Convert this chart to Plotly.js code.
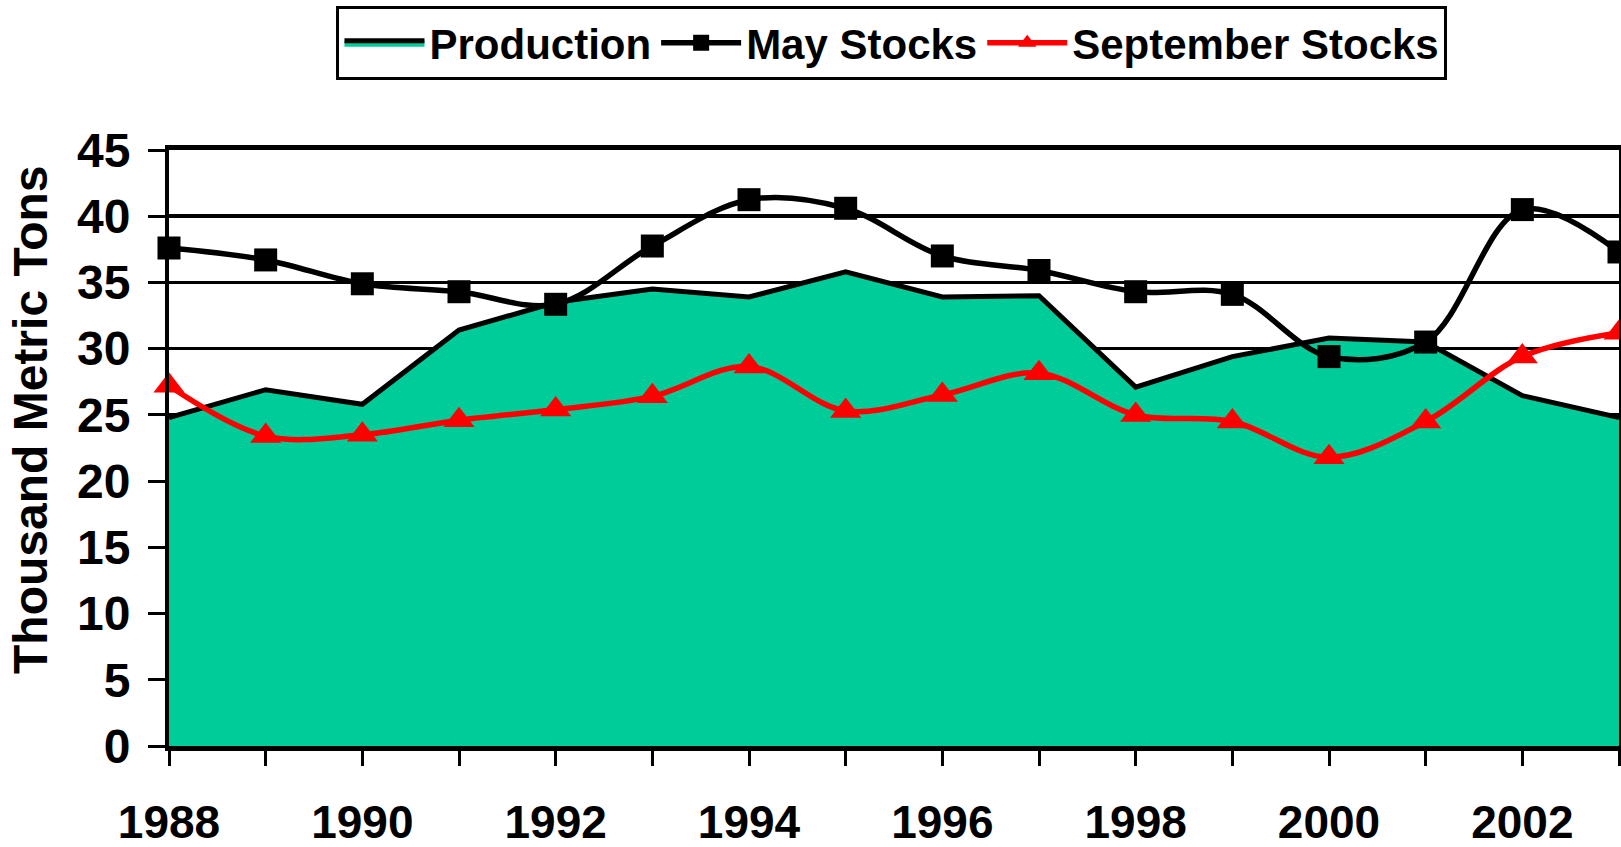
<!DOCTYPE html>
<html>
<head>
<meta charset="utf-8">
<script src="https://cdn.plot.ly/plotly-3.0.1.min.js"></script>
<style>
  html, body { margin: 0; padding: 0; background: #ffffff; }
  #chart { width: 1621px; height: 847px; }
</style>
</head>
<body>
<div id="chart"></div>
<script>
const years = [1988, 1989, 1990, 1991, 1992, 1993, 1994, 1995, 1996, 1997, 1998, 1999, 2000, 2001, 2002, 2003];
const production = [24.8, 26.9, 25.8, 31.4, 33.5, 34.5, 33.9, 35.8, 33.9, 34.0, 27.1, 29.4, 30.8, 30.5, 26.45, 24.8];
const mayStocks = [37.6, 36.7, 34.9, 34.3, 33.35, 37.75, 41.25, 40.6, 37.0, 35.9, 34.3, 34.1, 29.4, 30.5, 40.5, 37.3];
const septemberStocks = [27.2, 23.4, 23.5, 24.6, 25.4, 26.4, 28.65, 25.3, 26.5, 28.15, 25.0, 24.5, 21.8, 24.5, 29.4, 31.2];
const xTickVals = years;
const xTickText = ['1988', '', '1990', '', '1992', '', '1994', '', '1996', '', '1998', '', '2000', '', '2002', ''];
const yTickVals = [0, 5, 10, 15, 20, 25, 30, 35, 40, 45];

const fontFamily = 'Liberation Sans, Arial, Helvetica, sans-serif';

const traces = [
  {
    x: years, y: production, name: 'Production', type: 'scatter', mode: 'lines',
    fill: 'tozeroy', fillcolor: '#00CC99',
    line: { color: '#000000', width: 5, shape: 'linear' },
    cliponaxis: false
  },
  {
    x: years, y: mayStocks, name: 'May Stocks', type: 'scatter', mode: 'lines+markers',
    line: { color: '#000000', width: 5.5, shape: 'spline', smoothing: 1 },
    marker: { symbol: 'square', size: 23, color: '#000000' },
    cliponaxis: false
  },
  {
    x: years, y: septemberStocks, name: 'September Stocks', type: 'scatter', mode: 'lines+markers',
    line: { color: '#FF0000', width: 5.5, shape: 'spline', smoothing: 1 },
    marker: { symbol: 'triangle-up', size: 27, color: '#FF0000' },
    cliponaxis: false
  }
];

const layout = {
  width: 1621, height: 847,
  paper_bgcolor: '#ffffff', plot_bgcolor: '#ffffff',
  margin: { l: 169, r: 2, t: 150, b: 101, pad: 0 },
  font: { family: fontFamily, color: '#000000', weight: 'bold' },
  showlegend: true,
  legend: {
    orientation: 'h', x: 0.4986, xanchor: 'center', y: 1.1795, yanchor: 'middle',
    bordercolor: '#000000', borderwidth: 3, bgcolor: '#ffffff',
    font: { family: fontFamily, size: 42, color: '#000000', weight: 'bold' },
    itemwidth: 80, tracegroupgap: 0
  },
  xaxis: {
    range: [1988, 2003], tickmode: 'array', tickvals: xTickVals, ticktext: xTickText,
    ticks: 'outside', ticklen: 15, tickwidth: 3, tickcolor: '#000000',
    showline: true, linecolor: '#000000', linewidth: 5, mirror: true,
    showgrid: false, zeroline: false,
    ticklabelstandoff: 17,
    tickfont: { family: fontFamily, size: 46, color: '#000000', weight: 'bold' }
  },
  yaxis: {
    range: [0, 45], tickmode: 'array', tickvals: yTickVals,
    ticks: 'outside', ticklen: 17, tickwidth: 3, tickcolor: '#000000',
    showline: true, linecolor: '#000000', linewidth: 4, mirror: true,
    showgrid: true, gridcolor: '#000000', gridwidth: 3.5, zeroline: false,
    ticklabelstandoff: 8,
    tickfont: { family: fontFamily, size: 48, color: '#000000', weight: 'bold' }
  },
  annotations: [
    {
      text: 'Thousand Metric Tons', xref: 'paper', yref: 'paper',
      x: -0.0952, y: 0.547, xanchor: 'center', yanchor: 'middle',
      textangle: -90, showarrow: false,
      font: { family: fontFamily, size: 48, color: '#000000', weight: 'bold' }
    }
  ]
};

Plotly.newPlot('chart', traces, layout, { displayModeBar: false, staticPlot: true });
</script>
</body>
</html>
